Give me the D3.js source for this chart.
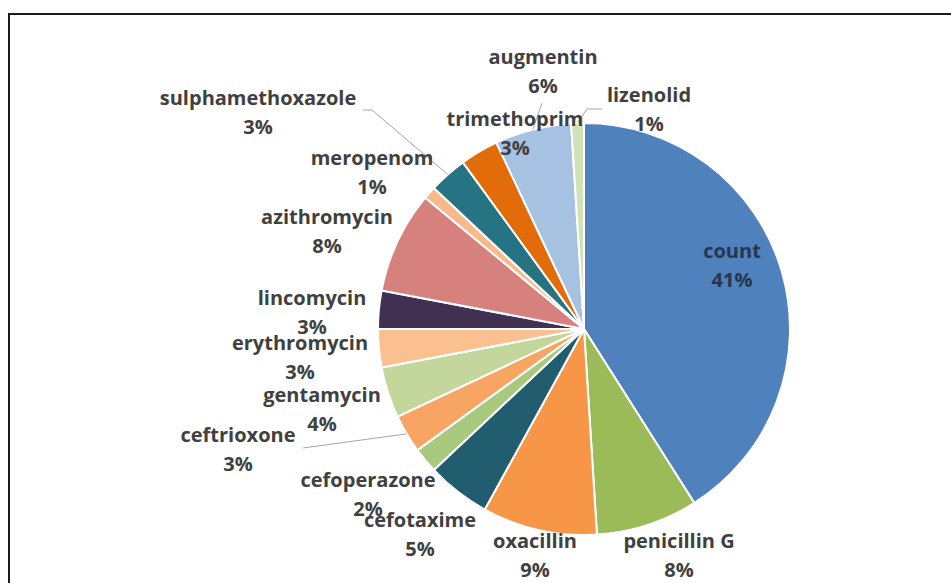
<!DOCTYPE html>
<html>
<head>
<meta charset="utf-8">
<script src="https://cdn.jsdelivr.net/npm/d3@7"></script>
<style>
  html, body { margin: 0; padding: 0; background: #fff; }
  svg { display: block; }
  .lbl { font-family: "Open Sans", sans-serif; font-weight: 700; font-size: 20px; fill: #404040; }
</style>
</head>
<body>
<svg id="chart" width="951" height="583"></svg>
<script>
// Antibiotic share (percent), clockwise from 12 o'clock
const categories = ["count", "penicillin G", "oxacillin", "cefotaxime", "cefoperazone",
  "ceftrioxone", "gentamycin", "erythromycin", "lincomycin", "azithromycin",
  "meropenom", "sulphamethoxazole", "trimethoprim", "augmentin", "lizenolid"];
const shares = [41, 8, 9, 5, 2, 3, 4, 3, 3, 8, 1, 3, 3, 6, 1];
const sliceColors = ["#4f81bd", "#9bbb59", "#f79646", "#215d6e", "#a9c97f",
  "#f8a462", "#c3d69b", "#fac090", "#403152", "#d6817d",
  "#f9b98a", "#267483", "#e26b0a", "#a7c1e2", "#d3e2b6"];

// Label placement: name baseline offset from pie centre
const labelOffset = {
  "count": [148, -71], "penicillin G": [95, 219], "oxacillin": [-49, 219],
  "cefotaxime": [-164, 198], "cefoperazone": [-216, 158], "ceftrioxone": [-346, 113],
  "gentamycin": [-262, 73], "erythromycin": [-284, 21], "lincomycin": [-272, -24],
  "azithromycin": [-257, -105], "meropenom": [-212, -164], "sulphamethoxazole": [-326, -224],
  "trimethoprim": [-69, -203], "augmentin": [-41, -265], "lizenolid": [65, -227]
};
// Leader lines: bend and end points relative to the label anchor
const leaders = {
  "sulphamethoxazole": [[114, 5], [105, 5]],
  "ceftrioxone": [[65, 6]],
  "lizenolid": [[-62, 7], [-47, 7]],
  "augmentin": [[-1, 39]]
};

const W = 951, H = 583;
const cx = 584, cy = 329, R = 206;
const lineGap = 29;

const svg = d3.select("#chart");

// frame: top and left rules
svg.append("line").attr("x1", 9).attr("y1", 14).attr("x2", W).attr("y2", 14)
  .attr("stroke", "#1a1a1a").attr("stroke-width", 2);
svg.append("line").attr("x1", 9).attr("y1", 13).attr("x2", 9).attr("y2", H)
  .attr("stroke", "#1a1a1a").attr("stroke-width", 2);

const data = categories.map((c, i) => ({ name: c, value: shares[i], color: sliceColors[i] }));
const pie = d3.pie().value(d => d.value).sort(null);
const arcs = pie(data);
const arc = d3.arc().innerRadius(0).outerRadius(R);

const g = svg.append("g").attr("transform", `translate(${cx},${cy})`);

g.selectAll("path.slice").data(arcs).join("path")
  .attr("class", "slice")
  .attr("d", arc)
  .attr("fill", d => d.data.color)
  .attr("stroke", "#fff")
  .attr("stroke-width", 2)
  .attr("stroke-linejoin", "round");

// leader lines from slice edge to label
const edgePoint = d => {
  const a = (d.startAngle + d.endAngle) / 2;
  return [R * Math.sin(a), -R * Math.cos(a)];
};
const lineGen = d3.line();
arcs.forEach(d => {
  const pts = leaders[d.data.name];
  if (!pts) return;
  const off = labelOffset[d.data.name];
  const path = [edgePoint(d)].concat(pts.map(p => [off[0] + p[0], off[1] + p[1]]));
  g.append("path").attr("d", lineGen(path))
    .attr("fill", "none").attr("stroke", "#a6a6a6").attr("stroke-width", 1);
});

// labels: name and percent
const fmt = v => d3.format(".0%")(v / d3.sum(shares));
const lbl = g.selectAll("text.lbl").data(arcs).join("text")
  .attr("class", "lbl")
  .attr("text-anchor", "middle")
  .attr("x", d => labelOffset[d.data.name][0])
  .attr("y", d => labelOffset[d.data.name][1])
  .style("fill", d => d.data.name === "count" ? "#26364f" : null);
lbl.append("tspan").text(d => d.data.name);
lbl.append("tspan")
  .attr("x", d => labelOffset[d.data.name][0])
  .attr("dy", lineGap)
  .text(d => fmt(d.data.value));
</script>
</body>
</html>
